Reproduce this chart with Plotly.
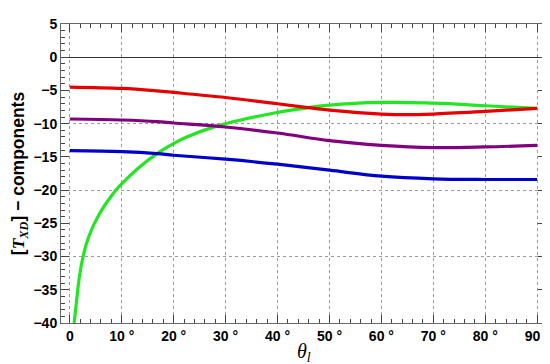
import plotly.graph_objects as go

# Data (theta in degrees)
theta_red = [0, 10, 16.8, 20, 30, 40, 45.5, 50, 60, 65, 70, 80, 90]
red = [-4.5, -4.7, -5.07, -5.3, -6.06, -7.0, -7.55, -7.95, -8.55, -8.65, -8.55, -8.15, -7.7]

theta_green = [0.83, 1.27, 1.78, 2.55, 3.69, 5.6, 8.8, 10, 13.6, 16.8, 20, 22.5, 28.6, 40, 45.5, 50, 60, 70, 80, 90]
green = [-40, -36.9, -33.4, -30, -26.9, -23.7, -20.07, -19.05, -16.4, -14.5, -13.0, -12.0, -10.3, -8.3, -7.65, -7.2, -6.8, -6.9, -7.3, -7.7]

theta_purple = [0, 10, 16.8, 20, 30, 40, 50, 60, 70, 80, 90]
purple = [-9.3, -9.45, -9.69, -9.9, -10.5, -11.4, -12.55, -13.26, -13.6, -13.5, -13.26]

theta_blue = [0, 10, 16.8, 20, 30, 40, 50, 60, 70, 80, 90]
blue = [-14.05, -14.2, -14.5, -14.75, -15.35, -16.1, -17.0, -17.9, -18.3, -18.4, -18.4]

x_tickvals = [0, 10, 20, 30, 40, 50, 60, 70, 80, 90]
x_ticktext = ["0", "10 °", "20 °", "30 °", "40 °", "50 °", "60 °", "70 °", "80 °", "90 °"]
y_tickvals = [5, 0, -5, -10, -15, -20, -25, -30, -35, -40]
y_ticktext = ["5", "0", "−5", "−10", "−15", "−20", "−25", "−30", "−35", "−40"]
y_gridvals = [-10, -20, -30]

fig = go.Figure()
series = [
    (theta_green, green, "#22e622", 1.3),
    (theta_red, red, "#e60000", 1.0),
    (theta_purple, purple, "#800080", 1.0),
    (theta_blue, blue, "#0000cc", 1.0),
]
for xs, ys, c, sm in series:
    fig.add_trace(go.Scatter(x=xs, y=ys, mode="lines",
                             line=dict(color=c, width=3.2, shape="spline", smoothing=sm),
                             showlegend=False, cliponaxis=True))

# overlay axis carrying the y grid every 10
fig.add_trace(go.Scatter(x=[None], y=[None], yaxis="y2", showlegend=False))

tickfont = dict(family="Liberation Sans, Arial, sans-serif", size=14, color="black", weight="bold")
grid = dict(showgrid=True, gridcolor="#9a9a9a", griddash="3px,3px", gridwidth=1)

fig.update_layout(
    width=550, height=364,
    margin=dict(l=53, r=8, t=13, b=49),
    paper_bgcolor="white", plot_bgcolor="white",
    xaxis=dict(
        range=[-1.7, 91.7], tickvals=x_tickvals, ticktext=x_ticktext,
        tickfont=tickfont, ticks="inside", ticklen=8, tickcolor="#444",
        showline=True, linecolor="#666", linewidth=1, mirror="ticks",
        zeroline=False,
        minor=dict(dtick=2, tick0=0, ticks="inside", ticklen=4, tickcolor="#444", showgrid=False),
        **grid,
    ),
    yaxis=dict(
        range=[-40, 5], tickvals=y_tickvals, ticktext=y_ticktext,
        tickfont=tickfont, ticks="inside", ticklen=8, tickcolor="#444",
        showline=True, linecolor="#666", linewidth=1, mirror="ticks",
        showgrid=False, zeroline=True, zerolinecolor="#333", zerolinewidth=1,
        minor=dict(dtick=1, tick0=0, ticks="inside", ticklen=4, tickcolor="#444", showgrid=False),
        title=dict(text="<b>[<span style='font-family:Liberation Serif'><i>T</i><sub><i>XD</i></sub></span>] − components</b>",
                   standoff=5,
                   font=dict(family="Liberation Sans, Arial, sans-serif", size=17.5, color="black")),
    ),
    yaxis2=dict(
        overlaying="y", range=[-40, 5], tickvals=y_gridvals, showticklabels=False,
        ticks="", zeroline=False, showline=False, side="left", **grid,
    ),
    annotations=[dict(
        text="<i>θ<sub>l</sub></i>", xref="paper", yref="paper", x=0.5, y=-0.099,
        xanchor="center", yanchor="middle", showarrow=False,
        font=dict(family="Liberation Serif, Times New Roman, serif", size=20, color="black"),
    )],
)

fig.write_html("out.html")
